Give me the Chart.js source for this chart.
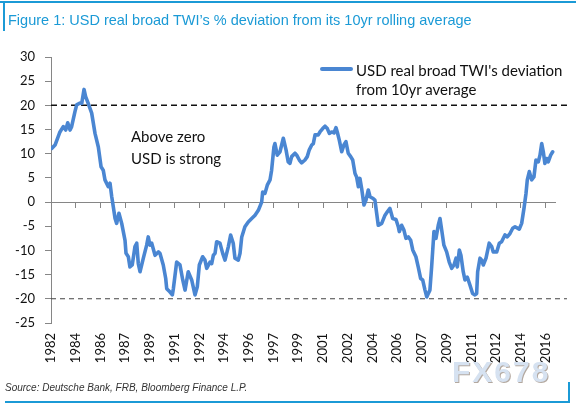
<!DOCTYPE html>
<html>
<head>
<meta charset="utf-8">
<script src="https://cdn.jsdelivr.net/npm/chart.js@4/dist/chart.umd.min.js"></script>
<style>
  html, body { margin: 0; padding: 0; background: #fff; }
  #wrap { position: relative; width: 580px; height: 408px; overflow: hidden; background: #fff; }
  #c { position: absolute; left: 0; top: 0; }
  .abs { position: absolute; white-space: nowrap; }
  #topline { left: 0; top: 1px; width: 576px; height: 2px; background: #1b9ad6; }
  #leftbar { left: 3px; top: 1px; width: 2px; height: 30px; background: #1b9ad6; }
  #title { left: 8px; top: 12px; font: 14.5px "Liberation Sans", Arial, sans-serif; color: #1b9ad6; line-height: 16px; }
  #source { left: 5px; top: 382px; font: italic 10px "Liberation Sans", Arial, sans-serif; color: #333; line-height: 11px; }
  #botline { left: 5px; top: 401px; width: 565px; height: 2px; background: #1b9ad6; }
  #rightbar { left: 568px; top: 382px; width: 2px; height: 21px; background: #1b9ad6; }
  #legline { left: 320px; top: 67px; width: 33px; height: 4px; background: #4a86d2; border-radius: 2px; }
  #legtext { left: 356px; top: 61px; font: 15px Lato, sans-serif; color: #111; line-height: 19px; }
  #note { left: 131px; top: 125px; font: 15px Lato, sans-serif; color: #111; line-height: 22px; }
  #wm { left: 452px; top: 355px; font: bold 30px "Liberation Sans", Arial, sans-serif; color: #d6e2f1; text-shadow: 1px 1px 0 #b3a89f; letter-spacing: 2px; }
</style>
</head>
<body>
<div id="wrap">
  <canvas id="c" width="580" height="408"></canvas>
  <div class="abs" id="topline"></div>
  <div class="abs" id="leftbar"></div>
  <div class="abs" id="title">Figure 1: USD real broad TWI’s % deviation from its 10yr rolling average</div>
  <div class="abs" id="legline"></div>
  <div class="abs" id="legtext">USD real broad TWI's deviation<br>from 10yr average</div>
  <div class="abs" id="note">Above zero<br>USD is strong</div>
  <div class="abs" id="source">Source: Deutsche Bank, FRB, Bloomberg Finance L.P.</div>
  <div class="abs" id="wm">FX678</div>
  <div class="abs" id="botline"></div>
  <div class="abs" id="rightbar"></div>
</div>
<script>
// ---- data ----
const years = [1982.05,1982.28,1982.62,1982.85,1983.02,1983.16,1983.32,1983.43,1983.66,1983.78,1984.01,1984.13,1984.29,1984.40,1984.58,1984.82,1985.05,1985.28,1985.47,1985.62,1985.74,1985.97,1986.09,1986.21,1986.32,1986.44,1986.55,1986.71,1986.90,1987.13,1987.20,1987.36,1987.47,1987.63,1987.82,1987.94,1988.05,1988.17,1988.40,1988.63,1988.74,1988.86,1988.98,1989.21,1989.44,1989.55,1989.78,1989.95,1990.02,1990.25,1990.41,1990.48,1990.71,1990.94,1991.13,1991.29,1991.51,1991.75,1991.98,1992.14,1992.28,1992.51,1992.67,1992.79,1993.02,1993.14,1993.25,1993.37,1993.48,1993.71,1993.90,1994.06,1994.29,1994.45,1994.63,1994.75,1994.98,1995.10,1995.22,1995.44,1995.67,1995.91,1996.14,1996.37,1996.60,1996.67,1996.83,1996.99,1997.18,1997.29,1997.45,1997.52,1997.68,1997.87,1998.10,1998.29,1998.44,1998.56,1998.68,1998.91,1999.03,1999.21,1999.37,1999.60,1999.76,1999.90,2000.07,2000.18,2000.30,2000.52,2000.64,2000.83,2000.99,2001.15,2001.29,2001.45,2001.61,2001.75,2001.84,2001.98,2002.15,2002.30,2002.44,2002.60,2002.77,2002.91,2003.07,2003.18,2003.30,2003.41,2003.53,2003.69,2003.83,2003.99,2004.11,2004.29,2004.45,2004.57,2004.68,2004.92,2005.15,2005.31,2005.49,2005.68,2005.91,2006.07,2006.14,2006.30,2006.46,2006.60,2006.76,2006.93,2007.07,2007.29,2007.45,2007.62,2007.76,2007.92,2008.04,2008.15,2008.26,2008.38,2008.54,2008.68,2008.84,2008.96,2009.08,2009.23,2009.42,2009.60,2009.77,2009.93,2010.07,2010.16,2010.30,2010.41,2010.57,2010.69,2010.85,2011.04,2011.22,2011.38,2011.50,2011.57,2011.73,2011.85,2011.96,2012.15,2012.37,2012.54,2012.65,2012.89,2013.07,2013.23,2013.46,2013.62,2013.81,2014.00,2014.16,2014.45,2014.62,2014.78,2014.92,2015.01,2015.15,2015.31,2015.47,2015.61,2015.77,2015.89,2016.01,2016.12,2016.23,2016.35,2016.46,2016.63,2016.77];
const deviation = [11.1,11.8,14.5,15.6,14.9,16.4,14.9,15.6,18.7,20.1,20.5,20.4,23.3,21.8,20.4,18.4,14.2,11.4,7.3,6.6,4.6,3.2,3.9,1.1,-1.0,-3.4,-4.4,-2.3,-4.4,-7.9,-10.6,-11.3,-13.4,-13.0,-9.2,-8.5,-12.7,-14.4,-11.6,-8.9,-7.2,-8.9,-8.5,-11.0,-10.3,-10.6,-13.0,-15.8,-17.9,-18.6,-19.2,-17.9,-12.4,-13.0,-16.1,-18.2,-14.4,-16.1,-19.2,-17.5,-13.0,-11.3,-12.0,-13.7,-12.4,-12.7,-11.0,-10.6,-8.2,-8.5,-10.6,-12.0,-9.2,-6.8,-8.5,-11.6,-12.0,-10.6,-7.2,-5.1,-4.1,-3.4,-2.7,-1.7,0.0,2.1,1.8,3.5,4.6,6.6,11.4,12.1,9.7,10.4,13.2,10.8,8.3,8.0,9.4,10.1,9.7,8.7,8.1,8.7,9.4,10.8,11.8,12.1,13.9,13.9,14.5,15.2,15.7,15.2,14.2,14.5,14.3,15.4,14.5,12.8,10.4,11.8,12.5,10.1,9.4,8.7,5.9,5.2,3.2,4.9,2.8,-0.6,0.4,2.5,1.1,0.8,0.4,-2.3,-4.8,-4.4,-2.7,-2.0,-1.3,-3.4,-3.6,-5.1,-6.1,-4.8,-5.8,-7.5,-7.2,-7.9,-9.9,-11.3,-13.4,-15.8,-16.1,-18.2,-19.6,-18.9,-18.2,-13.4,-6.1,-7.5,-4.8,-3.4,-5.8,-8.9,-10.3,-12.4,-13.7,-13.0,-11.6,-13.4,-9.9,-11.0,-14.4,-16.1,-15.5,-17.2,-18.9,-19.2,-18.9,-14.4,-11.6,-12.0,-13.0,-11.6,-8.5,-9.2,-10.3,-10.3,-8.5,-8.2,-6.8,-7.2,-6.5,-5.4,-5.1,-5.6,-4.4,-1.3,1.8,4.6,6.3,4.6,5.2,8.7,8.3,9.7,12.1,10.4,8.0,9.0,8.3,9.7,10.4];
const tickLabels = ["1982","1984","1986","1987","1989","1991","1992","1994","1996","1997","1999","2001","2002","2004","2006","2007","2009","2011","2012","2014","2016"];
const refLevels = [20, -20];
const yTicks = { min: -25, max: 30, step: 5 };

// ---- axis geometry ----
const xMin = 1982, xMax = 2016.93, refEnd = 2017.76, tickStep = 1.7138;
const tickValues = tickLabels.map((_, i) => xMin + i * tickStep);

const series = years.map((x, i) => ({ x, y: deviation[i] }));
const refLine = v => [{ x: xMin, y: v }, { x: refEnd, y: v }];

const setTicks = s => { s.ticks = tickValues.map(v => ({ value: v })); };
const axisGrey = '#868686';

new Chart(document.getElementById('c'), {
  type: 'line',
  data: {
    datasets: [
      { data: series, borderColor: '#4a86d2', borderWidth: 3.6, pointRadius: 0, tension: 0, borderJoinStyle: 'round', borderCapStyle: 'round', xAxisID: 'x', yAxisID: 'y' },
      { data: refLine(refLevels[0]), borderColor: '#111', borderWidth: 1.5, borderDash: [6, 4], pointRadius: 0, clip: false, xAxisID: 'x', yAxisID: 'y' },
      { data: refLine(refLevels[1]), borderColor: '#444', borderWidth: 1.1, borderDash: [5, 4], pointRadius: 0, clip: false, xAxisID: 'x', yAxisID: 'y' }
    ]
  },
  options: {
    responsive: false,
    animation: false,
    devicePixelRatio: 1,
    layout: { padding: { left: 11, top: 57, right: 25, bottom: 40 } },
    plugins: { legend: { display: false }, tooltip: { enabled: false } },
    scales: {
      x: {
        type: 'linear', min: xMin, max: xMax,
        position: { y: 0 },
        afterBuildTicks: setTicks,
        ticks: { display: false },
        grid: { drawOnChartArea: false, drawTicks: true, tickLength: 5, color: axisGrey },
        border: { color: axisGrey, width: 1 }
      },
      x2: {
        type: 'linear', min: xMin, max: xMax,
        position: 'bottom',
        afterBuildTicks: setTicks,
        afterFit: s => { s.height = 45; },
        ticks: { autoSkip: false, minRotation: 90, maxRotation: 90, padding: 10, color: '#111', font: { family: 'Lato', size: 13 }, callback: (v, i) => tickLabels[i] },
        grid: { display: false, drawTicks: false },
        border: { display: false }
      },
      y: {
        type: 'linear', min: yTicks.min, max: yTicks.max,
        position: 'left',
        afterFit: s => { s.width = 40; },
        ticks: { stepSize: yTicks.step, padding: 10, color: '#111', font: { family: 'Lato', size: 13 } },
        grid: { drawOnChartArea: false, drawTicks: true, tickLength: 6, color: axisGrey },
        border: { color: axisGrey, width: 1 }
      }
    }
  }
});
</script>
</body>
</html>
